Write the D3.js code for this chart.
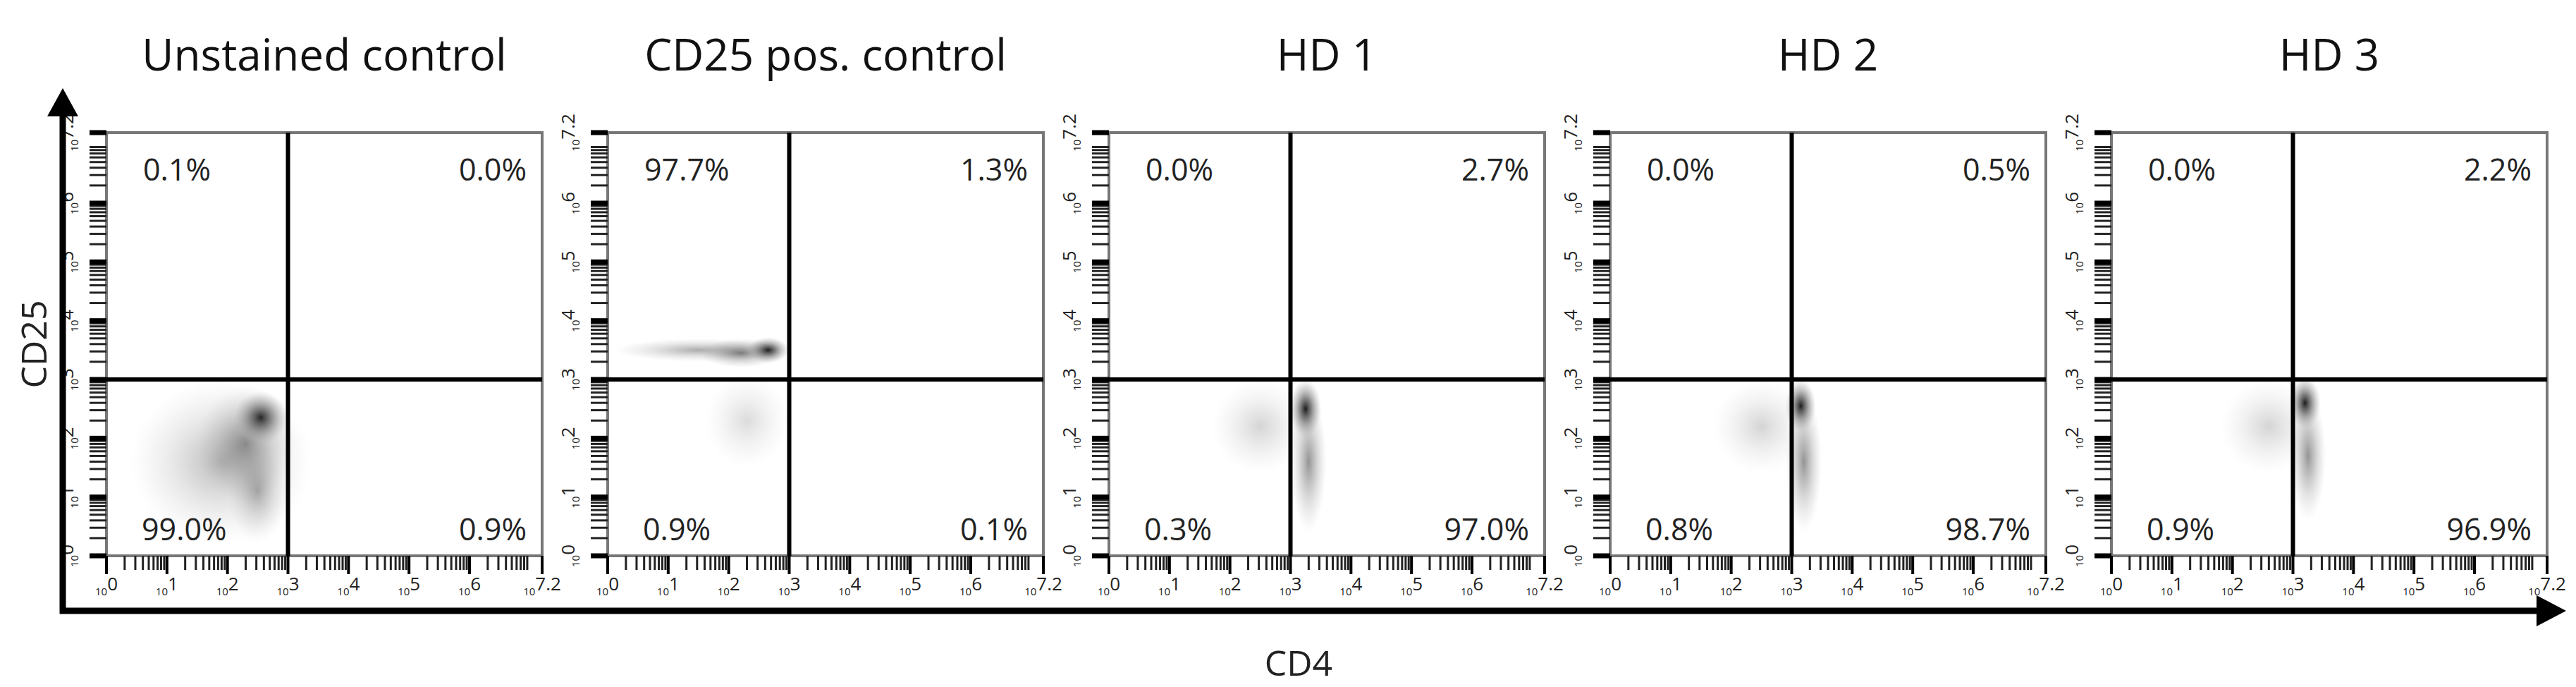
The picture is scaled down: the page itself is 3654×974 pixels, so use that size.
<!DOCTYPE html>
<html><head><meta charset="utf-8">
<script src="https://cdn.jsdelivr.net/npm/d3@7/dist/d3.min.js"></script>
<style>body{margin:0;background:#fff}svg{display:block}</style></head>
<body><svg id="c" width="3654" height="974"></svg>
<script>
const panels = ["Unstained control","CD25 pos. control","HD 1","HD 2","HD 3"];
const pctUL = ["0.1%","97.7%","0.0%","0.0%","0.0%"];
const pctUR = ["0.0%","1.3%","2.7%","0.5%","2.2%"];
const pctLL = ["99.0%","0.9%","0.3%","0.8%","0.9%"];
const pctLR = ["0.9%","0.1%","97.0%","98.7%","96.9%"];
const tickExps = [0,1,2,3,4,5,6,7.2];
const gateX = 3, gateY = 3;
// density clusters per panel: [cx, cy, rx, ry, opacity] in log10 units
const clusters = [
  [[1.9,1.6,1.5,1.4,0.3],[2.3,1.9,0.8,1.0,0.4],[2.55,2.35,0.45,0.45,0.9],[2.5,1.1,0.5,0.9,0.3]],
  [[1.5,3.5,1.4,0.2,0.35],[2.2,3.45,0.7,0.25,0.5],[2.65,3.5,0.35,0.22,0.95],[2.3,2.3,0.7,0.8,0.15]],
  [[2.5,2.2,0.8,0.8,0.18],[3.3,1.6,0.3,1.2,0.45],[3.25,2.5,0.26,0.5,0.95]],
  [[2.5,2.2,0.8,0.8,0.18],[3.2,1.6,0.3,1.2,0.45],[3.15,2.55,0.25,0.45,0.95]],
  [[2.6,2.2,0.8,0.8,0.18],[3.25,1.7,0.3,1.1,0.45],[3.2,2.6,0.26,0.45,0.95]]
];
const xLabel = "CD4", yLabel = "CD25";

const svg = d3.select("#c");
const font = "'Open Sans', 'DejaVu Sans', sans-serif";
const box0 = 151, boxW = 618, step = 711, boxTop = 188, boxBot = 788;
const defs = svg.append("defs");
const g = defs.append("radialGradient").attr("id","blob");
g.append("stop").attr("offset","0%").attr("stop-color","#111").attr("stop-opacity",1);
g.append("stop").attr("offset","35%").attr("stop-color","#555").attr("stop-opacity",0.75);
g.append("stop").attr("offset","75%").attr("stop-color","#999").attr("stop-opacity",0.35);
g.append("stop").attr("offset","100%").attr("stop-color","#bbb").attr("stop-opacity",0);

const minors = [];
for (let n=0;n<7;n++) for (let k=2;k<=9;k++){const v=n+Math.log10(k); if(v<7.2) minors.push(v);}

panels.forEach((name,i)=>{
  const L = box0 + i*step;
  const x = d3.scaleLinear().domain([0,7.2]).range([L, L+boxW]);
  const y = d3.scaleLinear().domain([0,7.2]).range([boxBot, boxTop]);
  const p = svg.append("g");
  p.append("text").attr("x",(L+L+boxW)/2).attr("y",100).attr("text-anchor","middle")
    .attr("font-family",font).attr("font-size",62).attr("fill","#111").text(name);
  const cl = p.append("g");
  cl.selectAll("ellipse").data(clusters[i]).join("ellipse")
    .attr("cx",d=>x(d[0])).attr("cy",d=>y(d[1]))
    .attr("rx",d=>x(d[2])-x(0)).attr("ry",d=>y(0)-y(d[3]))
    .attr("fill","url(#blob)").attr("opacity",d=>d[4]);
  p.append("rect").attr("x",L).attr("y",boxTop).attr("width",boxW).attr("height",boxBot-boxTop)
    .attr("fill","none").attr("stroke","#777").attr("stroke-width",4);
  p.append("line").attr("x1",x(gateX)).attr("x2",x(gateX)).attr("y1",boxTop).attr("y2",boxBot)
    .attr("stroke","#000").attr("stroke-width",6);
  p.append("line").attr("x1",L).attr("x2",L+boxW).attr("y1",y(gateY)).attr("y2",y(gateY))
    .attr("stroke","#000").attr("stroke-width",6);
  p.selectAll(".xm").data(minors).join("line").attr("x1",d=>x(d)).attr("x2",d=>x(d))
    .attr("y1",boxBot).attr("y2",boxBot+20).attr("stroke","#222").attr("stroke-width",3);
  p.selectAll(".xM").data(tickExps).join("line").attr("x1",d=>x(d)).attr("x2",d=>x(d))
    .attr("y1",boxBot).attr("y2",boxBot+26).attr("stroke","#000").attr("stroke-width",4);
  p.selectAll(".ym").data(minors).join("line").attr("y1",d=>y(d)).attr("y2",d=>y(d))
    .attr("x1",L).attr("x2",L-24).attr("stroke","#222").attr("stroke-width",3);
  p.selectAll(".yM").data(tickExps).join("line").attr("y1",d=>y(d)).attr("y2",d=>y(d))
    .attr("x1",L).attr("x2",L-24).attr("stroke","#000").attr("stroke-width",7);
  tickExps.forEach(e=>{
    const t = p.append("text").attr("x",x(e)).attr("y",boxBot+56).attr("text-anchor","middle")
      .attr("font-family",font).attr("fill","#222");
    t.append("tspan").attr("font-size",15).text("10");
    t.append("tspan").attr("font-size",26).attr("dy",-7).text(e);
    const ty = p.append("text").attr("transform",`translate(${L-40},${y(e)}) rotate(-90)`)
      .attr("text-anchor","middle").attr("font-family",font).attr("fill","#222");
    ty.append("tspan").attr("font-size",15).text("10");
    ty.append("tspan").attr("font-size",26).attr("dy",-7).text(e);
  });
  const fs = 43;
  const addP=(tx,ty,anchor,s)=>p.append("text").attr("x",tx).attr("y",ty).attr("text-anchor",anchor)
    .attr("font-family",font).attr("font-size",fs).attr("fill","#222").text(s);
  addP(L+52,boxTop+68,"start",pctUL[i]);
  addP(L+boxW-22,boxTop+68,"end",pctUR[i]);
  addP(L+50,boxBot-22,"start",pctLL[i]);
  addP(L+boxW-22,boxBot-22,"end",pctLR[i]);
});

svg.append("line").attr("x1",89).attr("x2",89).attr("y1",160).attr("y2",870).attr("stroke","#000").attr("stroke-width",9);
svg.append("line").attr("x1",85).attr("x2",3600).attr("y1",866).attr("y2",866).attr("stroke","#000").attr("stroke-width",9);
svg.append("path").attr("d","M89,125 L67,165 L111,165 Z").attr("fill","#000");
svg.append("path").attr("d","M3640,866 L3598,844 L3598,888 Z").attr("fill","#000");
svg.append("text").attr("x",1842).attr("y",958).attr("text-anchor","middle").attr("font-family",font)
  .attr("font-size",50).attr("fill","#222").text(xLabel);
svg.append("text").attr("transform","translate(66,488) rotate(-90)").attr("text-anchor","middle")
  .attr("font-family",font).attr("font-size",50).attr("fill","#222").text(yLabel);
</script></body></html>
